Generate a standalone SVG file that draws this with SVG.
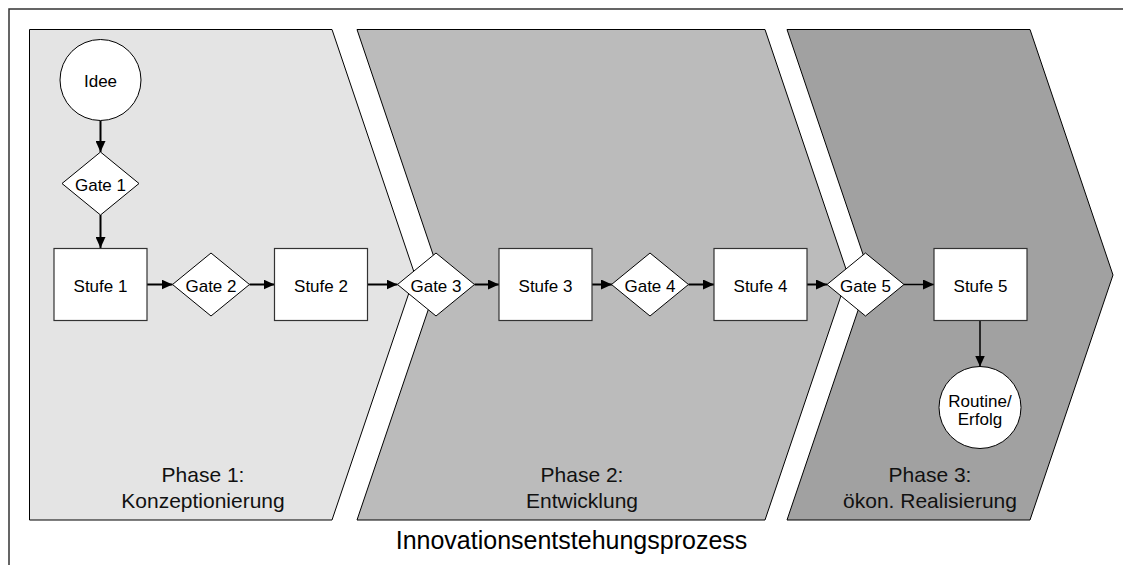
<svg xmlns="http://www.w3.org/2000/svg" width="1123" height="565" viewBox="0 0 1123 565">
  <style>
    text { font-family: "Liberation Sans", Arial, sans-serif; fill: #000; text-anchor: middle; }
    .node { font-size: 17px; }
    .phase-label { font-size: 21px; fill: #111; }
    .title { font-size: 25px; }
    .phase { stroke: #000; stroke-width: 1; }
    .box { fill: #fff; stroke: #333; stroke-width: 1.2; }
    .gate { fill: #fff; stroke: #000; stroke-width: 1; }
    .circle { fill: #fff; stroke: #000; stroke-width: 1; }
    .conn { stroke: #000; stroke-width: 2; fill: none; marker-end: url(#arrow); }
    .conn.thin { stroke-width: 1.5; }
  </style>
  <defs>
    <marker id="arrow" markerUnits="userSpaceOnUse" markerWidth="12" markerHeight="10" refX="11" refY="5" orient="auto">
      <path d="M0,0 L11,5 L0,10 Z" fill="#000"/>
    </marker>
  </defs>

  <rect width="1123" height="565" fill="#fff"/>
  <!-- outer frame (only top and left edges fall inside the canvas) -->
  <rect x="9" y="9" width="1200" height="600" fill="none" stroke="#333" stroke-width="1.5"/>

  <!-- phase chevrons -->
  <g id="phase1">
    <path class="phase" fill="#e4e4e4" d="M29.5,29.5 H332 L415,275 L332,520 H29.5 Z"/>
    <text class="phase-label" x="203" y="482">Phase 1:</text>
    <text class="phase-label" x="203" y="508">Konzeptionierung</text>
  </g>
  <g id="phase2">
    <path class="phase" fill="#bbbbbb" d="M357,29.5 H765 L848,275 L765,520 H357 L440,275 Z"/>
    <text class="phase-label" x="582" y="482">Phase 2:</text>
    <text class="phase-label" x="582" y="508">Entwicklung</text>
  </g>
  <g id="phase3">
    <path class="phase" fill="#a1a1a1" d="M787,29.5 H1030 L1113,275 L1030,520 H787 L870,275 Z"/>
    <text class="phase-label" x="930" y="482">Phase 3:</text>
    <text class="phase-label" x="930" y="508">ökon. Realisierung</text>
  </g>

  <!-- connectors -->
  <g id="connectors">
    <line class="conn" x1="100.5" y1="121" x2="100.5" y2="152"/>
    <line class="conn" x1="100.5" y1="215" x2="100.5" y2="248"/>
    <line class="conn" x1="147" y1="284.5" x2="172.5" y2="284.5"/>
    <line class="conn" x1="249.5" y1="284.5" x2="274.5" y2="284.5"/>
    <line class="conn" x1="367.5" y1="284.5" x2="397.5" y2="284.5"/>
    <line class="conn" x1="474.5" y1="284.5" x2="499" y2="284.5"/>
    <line class="conn" x1="592" y1="284.5" x2="612" y2="284.5"/>
    <line class="conn" x1="688.5" y1="284.5" x2="714" y2="284.5"/>
    <line class="conn" x1="806.5" y1="284.5" x2="827" y2="284.5"/>
    <line class="conn thin" x1="904" y1="284.5" x2="934" y2="284.5"/>
    <line class="conn thin" x1="980" y1="320.5" x2="980" y2="366.5"/>
  </g>

  <!-- nodes -->
  <g id="idee">
    <circle class="circle" cx="100.5" cy="80" r="40.5"/>
    <text class="node" x="100.5" y="86.5">Idee</text>
  </g>
  <g id="gate1">
    <path class="gate" d="M100.5,152 L139,183.5 L100.5,215 L62,183.5 Z"/>
    <text class="node" x="100.5" y="190.5">Gate 1</text>
  </g>
  <g id="stufe1">
    <rect class="box" x="54" y="248.5" width="93" height="72"/>
    <text class="node" x="100.5" y="292">Stufe 1</text>
  </g>
  <g id="gate2">
    <path class="gate" d="M211,253 L249.5,284.5 L211,316 L172.5,284.5 Z"/>
    <text class="node" x="211" y="292">Gate 2</text>
  </g>
  <g id="stufe2">
    <rect class="box" x="274.5" y="248.5" width="93" height="72"/>
    <text class="node" x="321" y="292">Stufe 2</text>
  </g>
  <g id="gate3">
    <path class="gate" d="M436,253 L474.5,284.5 L436,316 L397.5,284.5 Z"/>
    <text class="node" x="436" y="292">Gate 3</text>
  </g>
  <g id="stufe3">
    <rect class="box" x="499" y="248.5" width="93" height="72"/>
    <text class="node" x="545.5" y="292">Stufe 3</text>
  </g>
  <g id="gate4">
    <path class="gate" d="M650,253 L688.5,284.5 L650,316 L611.5,284.5 Z"/>
    <text class="node" x="650" y="292">Gate 4</text>
  </g>
  <g id="stufe4">
    <rect class="box" x="714" y="248.5" width="93" height="72"/>
    <text class="node" x="760.5" y="292">Stufe 4</text>
  </g>
  <g id="gate5">
    <path class="gate" d="M865.5,253 L904,284.5 L865.5,316 L827,284.5 Z"/>
    <text class="node" x="865.5" y="292">Gate 5</text>
  </g>
  <g id="stufe5">
    <rect class="box" x="934" y="248.5" width="93" height="72"/>
    <text class="node" x="980.5" y="292">Stufe 5</text>
  </g>
  <g id="routine">
    <circle class="circle" cx="980" cy="407.5" r="41"/>
    <text class="node" x="980" y="406.5">Routine/</text>
    <text class="node" x="980" y="425">Erfolg</text>
  </g>

  <text class="title" x="571.5" y="549">Innovationsentstehungsprozess</text>
</svg>
